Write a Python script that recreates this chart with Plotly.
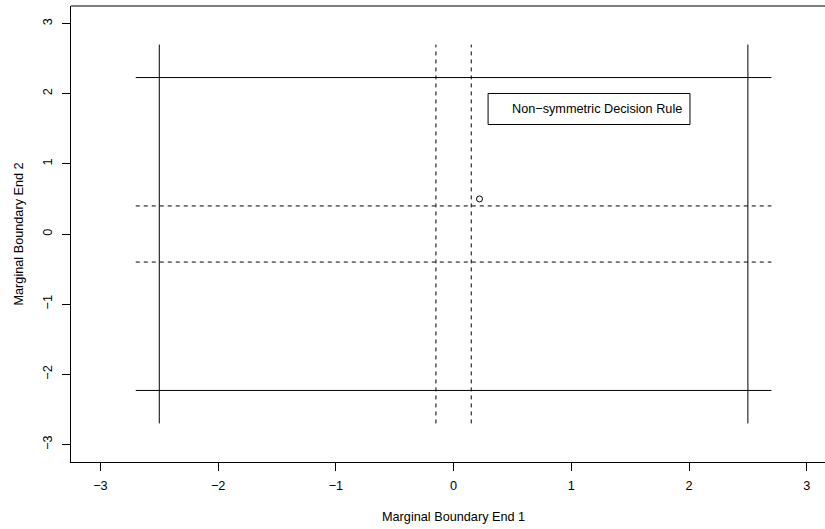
import plotly.graph_objects as go

# Data
solid_v_x = [-2.5, 2.5]        # solid vertical boundaries
solid_h_y = [-2.23, 2.23]      # solid horizontal boundaries
dashed_v_x = [-0.15, 0.15]     # dashed vertical boundaries
dashed_h_y = [-0.4, 0.4]       # dashed horizontal boundaries
extent = [-2.7, 2.7]           # line extent
point_x = [0.22]
point_y = [0.5]
x_ticks = [-3, -2, -1, 0, 1, 2, 3]
y_ticks = [-3, -2, -1, 0, 1, 2, 3]
legend_text = "Non\u2212symmetric Decision Rule"

fig = go.Figure()

def add_line(xs, ys, dash):
    fig.add_trace(go.Scatter(x=xs, y=ys, mode="lines",
                             line=dict(color="black", width=1, dash=dash),
                             showlegend=False, hoverinfo="skip"))

for v in solid_v_x:
    add_line([v, v], extent, "solid")
for h in solid_h_y:
    add_line(extent, [h, h], "solid")
for v in dashed_v_x:
    add_line([v, v], extent, "4px,4px")
for h in dashed_h_y:
    add_line(extent, [h, h], "4px,4px")

fig.add_trace(go.Scatter(x=point_x, y=point_y, mode="markers",
                         marker=dict(symbol="circle-open", size=6,
                                     color="black", line=dict(width=1)),
                         showlegend=False))

font = dict(family="Liberation Sans, Arial, sans-serif", size=12.7, color="black")

L, T, W, H = 71, 6, 754, 456

fig.update_layout(
    width=825, height=529,
    margin=dict(l=L, r=825 - L - W, t=T, b=529 - T - H),
    plot_bgcolor="white", paper_bgcolor="white",
    font=font,
    xaxis=dict(range=[-3.25, 3.155], tickvals=x_ticks,
               ticktext=[str(t).replace("-", "\u2212") for t in x_ticks],
               ticks="outside", ticklen=8, tickcolor="black", tickwidth=1,
               showline=True, linecolor="black", linewidth=1,
               showgrid=False, zeroline=False, ticklabelstandoff=4),
    yaxis=dict(range=[-3.25, 3.25], tickvals=y_ticks,
               ticktext=[str(t).replace("-", "\u2212") for t in y_ticks],
               ticks="outside", ticklen=8, tickcolor="black", tickwidth=1,
               showline=True, linecolor="black", linewidth=1,
               showgrid=False, zeroline=False, tickangle=-90,
               ticklabelstandoff=5),
    shapes=[
        dict(type="line", xref="paper", yref="paper", x0=0, x1=1, y0=1, y1=1,
             line=dict(color="black", width=1)),
        dict(type="rect", xref="x", yref="y", x0=0.293, x1=2.008,
             y0=1.561, y1=2.003, line=dict(color="black", width=1)),
    ],
    annotations=[
        dict(text=legend_text, x=0.48, y=1.782, xref="x", yref="y",
             xanchor="left", yanchor="middle", showarrow=False, font=font),
        dict(text="Marginal Boundary End 1", x=(453.5 - L) / W, y=(T + H - 517) / H,
             xref="paper", yref="paper", xanchor="center", yanchor="middle",
             showarrow=False, font=font),
        dict(text="Marginal Boundary End 2", x=(18 - L) / W, y=(T + H - 234.5) / H,
             xref="paper", yref="paper", xanchor="center", yanchor="middle",
             showarrow=False, font=font, textangle=-90),
    ],
)

fig.write_html("out.html", config={"displayModeBar": False},
               post_script="document.body.style.margin='0px';")
